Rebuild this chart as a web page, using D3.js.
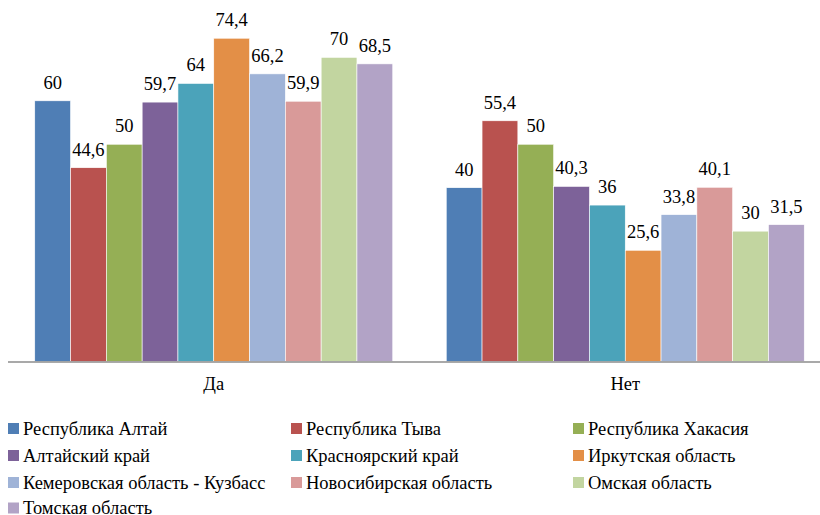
<!DOCTYPE html>
<html><head><meta charset="utf-8">
<script src="https://cdn.jsdelivr.net/npm/d3@7"></script>
</head><body style="margin:0;background:#fff"><svg id="c" width="820" height="515" style="display:block"></svg>
<script>
const categories = ["Да", "Нет"];
const seriesNames = ["Республика Алтай","Республика Тыва","Республика Хакасия","Алтайский край","Красноярский край","Иркутская область","Кемеровская область - Кузбасс","Новосибирская область","Омская область","Томская область"];
const yesValues = [60, 44.6, 50, 59.7, 64, 74.4, 66.2, 59.9, 70, 68.5];
const noValues  = [40, 55.4, 50, 40.3, 36, 25.6, 33.8, 40.1, 30, 31.5];
const colors = ["#4F7EB5","#B9524F","#95AF55","#7D6299","#4BA3BA","#E38F47","#9FB3D7","#D99A99","#C2D5A0","#B2A3C6"];
const FONT = "Liberation Serif";
const FS = 18.5;

const svg = d3.select("#c");
const x0 = d3.scaleBand().domain(categories).range([8, 831]).paddingInner(0.13).paddingOuter(0.065);
const x1 = d3.scaleBand().domain(seriesNames).range([0, x0.bandwidth()]);
const y = d3.scaleLinear().domain([0, 80]).range([361.5, 13.9]);

const data = categories.map((c, ci) => ({cat: c, vals: seriesNames.map((s, si) => ({s, si, v: (ci === 0 ? yesValues : noValues)[si]}))}));

function txt(sel) {
  return sel.attr("font-family", FONT).style("font-family", FONT, "important")
    .attr("font-size", FS).attr("fill", "#000");
}

const g = svg.selectAll("g.grp").data(data).join("g").attr("transform", d => `translate(${x0(d.cat)},0)`);
g.selectAll("rect").data(d => d.vals).join("rect")
  .attr("x", d => x1(d.s)).attr("width", x1.bandwidth())
  .attr("y", d => y(d.v)).attr("height", d => y(0) - y(d.v))
  .attr("fill", d => colors[d.si]).attr("stroke", "#fff").attr("stroke-width", 0.6);
txt(g.selectAll("text.lbl").data(d => d.vals).join("text").attr("class", "lbl")
  .attr("x", d => x1(d.s) + x1.bandwidth() / 2).attr("y", d => y(d.v) - 12)
  .attr("text-anchor", "middle"))
  .text(d => String(d.v).replace(".", ","));

// axis
svg.append("line").attr("x1", 8).attr("x2", 820).attr("y1", y(0) + 0.5).attr("y2", y(0) + 0.5)
  .attr("stroke", "#8c8c8c").attr("stroke-width", 1.5);
txt(svg.selectAll("text.cat").data(categories).join("text").attr("class", "cat")
  .attr("x", d => x0(d) + x0.bandwidth() / 2).attr("y", 390)
  .attr("text-anchor", "middle")).text(d => d);

// legend
const colX = [8, 291, 573];
const rowY = [428.5, 455.5, 482.5, 508];
const lg = svg.selectAll("g.leg").data(seriesNames).join("g").attr("class", "leg")
  .attr("transform", (d, i) => `translate(${colX[i % 3]},${rowY[Math.floor(i / 3)]})`);
lg.append("rect").attr("x", 0).attr("y", -5.5).attr("width", 11).attr("height", 11).attr("fill", (d, i) => colors[i]);
txt(lg.append("text").attr("x", 15).attr("y", 6)).text(d => d);
</script></body></html>
